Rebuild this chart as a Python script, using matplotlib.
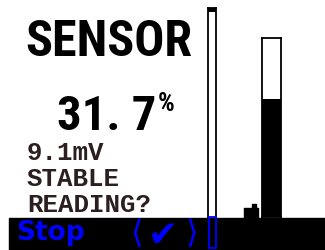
import matplotlib
matplotlib.use('Agg')
import matplotlib.pyplot as plt
from matplotlib.patches import Rectangle
from matplotlib.path import Path

# screen contents
title = 'SENSOR'
reading = '31. 7'
unit = '%'
status_lines = ['9.1mV', 'STABLE', 'READING?']
soft_left = 'Stop'
soft_mid = ['\u27e8', '\u2714', '\u27e9']
level = 0.66        # gauge fill
setpoint = 0.034    # pointer next to gauge
scroll_pos = 0.0    # scrollbar thumb position
scroll_thumb = 0.015

W, H = 325, 251
blue = '#0000ff'
ink = '#2b1f1f'
big_font = ['Roboto Condensed', 'Liberation Sans Narrow', 'DejaVu Sans']

fig = plt.figure(figsize=(W / 100, H / 100), dpi=100)


def px_axes(x0, y0, x1, y1, z):
    # axes placed by screen pixels (top-left origin)
    a = fig.add_axes([x0 / W, (H - y1) / H, (x1 - x0) / W, (y1 - y0) / H])
    a.set_zorder(z)
    return a


# background layer: big texts
ax = px_axes(0, 0, W, H, 0)
ax.set_xlim(0, W)
ax.set_ylim(H, 0)
ax.axis('off')

ax.text(109, 56, title, family=big_font, fontweight='bold', fontstretch='condensed',
        fontsize=36, ha='center', va='baseline', color='black')
ax.text(107, 130, reading, family=big_font, fontweight='bold', fontstretch='condensed',
        fontsize=35, ha='center', va='baseline', color='black')
ax.text(158, 92, unit, family=big_font, fontweight='bold', fontsize=19,
        ha='left', va='top', color='black')
for i, line in enumerate(status_lines):
    ax.text(27, 160 + i * 26, line, family=['Liberation Mono', 'DejaVu Sans Mono'],
            fontsize=18.5, fontweight='bold', ha='left', va='baseline', color=ink)

# scrollbar
axs = px_axes(208, 9, 216, 249, 1)
axs.set_xlim(-0.5, 0.5)
axs.set_ylim(1, 0)
axs.bar(0, scroll_thumb, bottom=scroll_pos, width=1, color='black')
axs.set_xticks([])
axs.set_yticks([])
for s in axs.spines.values():
    s.set_linewidth(1.3)

# level gauge
axg = px_axes(262, 39, 281, 218, 1)
axg.set_xlim(-0.5, 0.5)
axg.set_ylim(0, 1)
axg.bar(0, level, width=1, color='black')
axg.set_xticks([])
axg.set_yticks([])
for s in axg.spines.values():
    s.set_linewidth(1.3)
pointer = Path([(-7, -7), (7, -7), (7, 3), (5, 3), (5, 7), (1, 7), (1, 3), (-7, 3), (-7, -7)],
               [Path.MOVETO] + [Path.LINETO] * 7 + [Path.CLOSEPOLY])
axg.plot([-1.08], [setpoint], marker=pointer, markersize=10, color='black',
         clip_on=False, linestyle='none')

# soft-key bar on top
axt = px_axes(0, 0, W, H, 2)
axt.set_xlim(0, W)
axt.set_ylim(H, 0)
axt.axis('off')
axt.patch.set_alpha(0)
axt.add_patch(Rectangle((9, 219), W - 9, H - 219, color='black'))
axt.add_patch(Rectangle((208.5, 218), 7, 31, fc='none', ec=blue, lw=1.3))
axt.text(16, 240, soft_left, family='DejaVu Sans', fontweight='bold', fontsize=19,
         color=blue, ha='left', va='baseline')
axt.text(136, 235, soft_mid[0], family='DejaVu Sans', fontsize=23, color=blue,
         ha='center', va='center')
axt.text(163, 236, soft_mid[1], family='DejaVu Sans', fontsize=26, color=blue,
         ha='center', va='center')
axt.text(192, 235, soft_mid[2], family='DejaVu Sans', fontsize=23, color=blue,
         ha='center', va='center')

fig.savefig('out.png', dpi=100)
